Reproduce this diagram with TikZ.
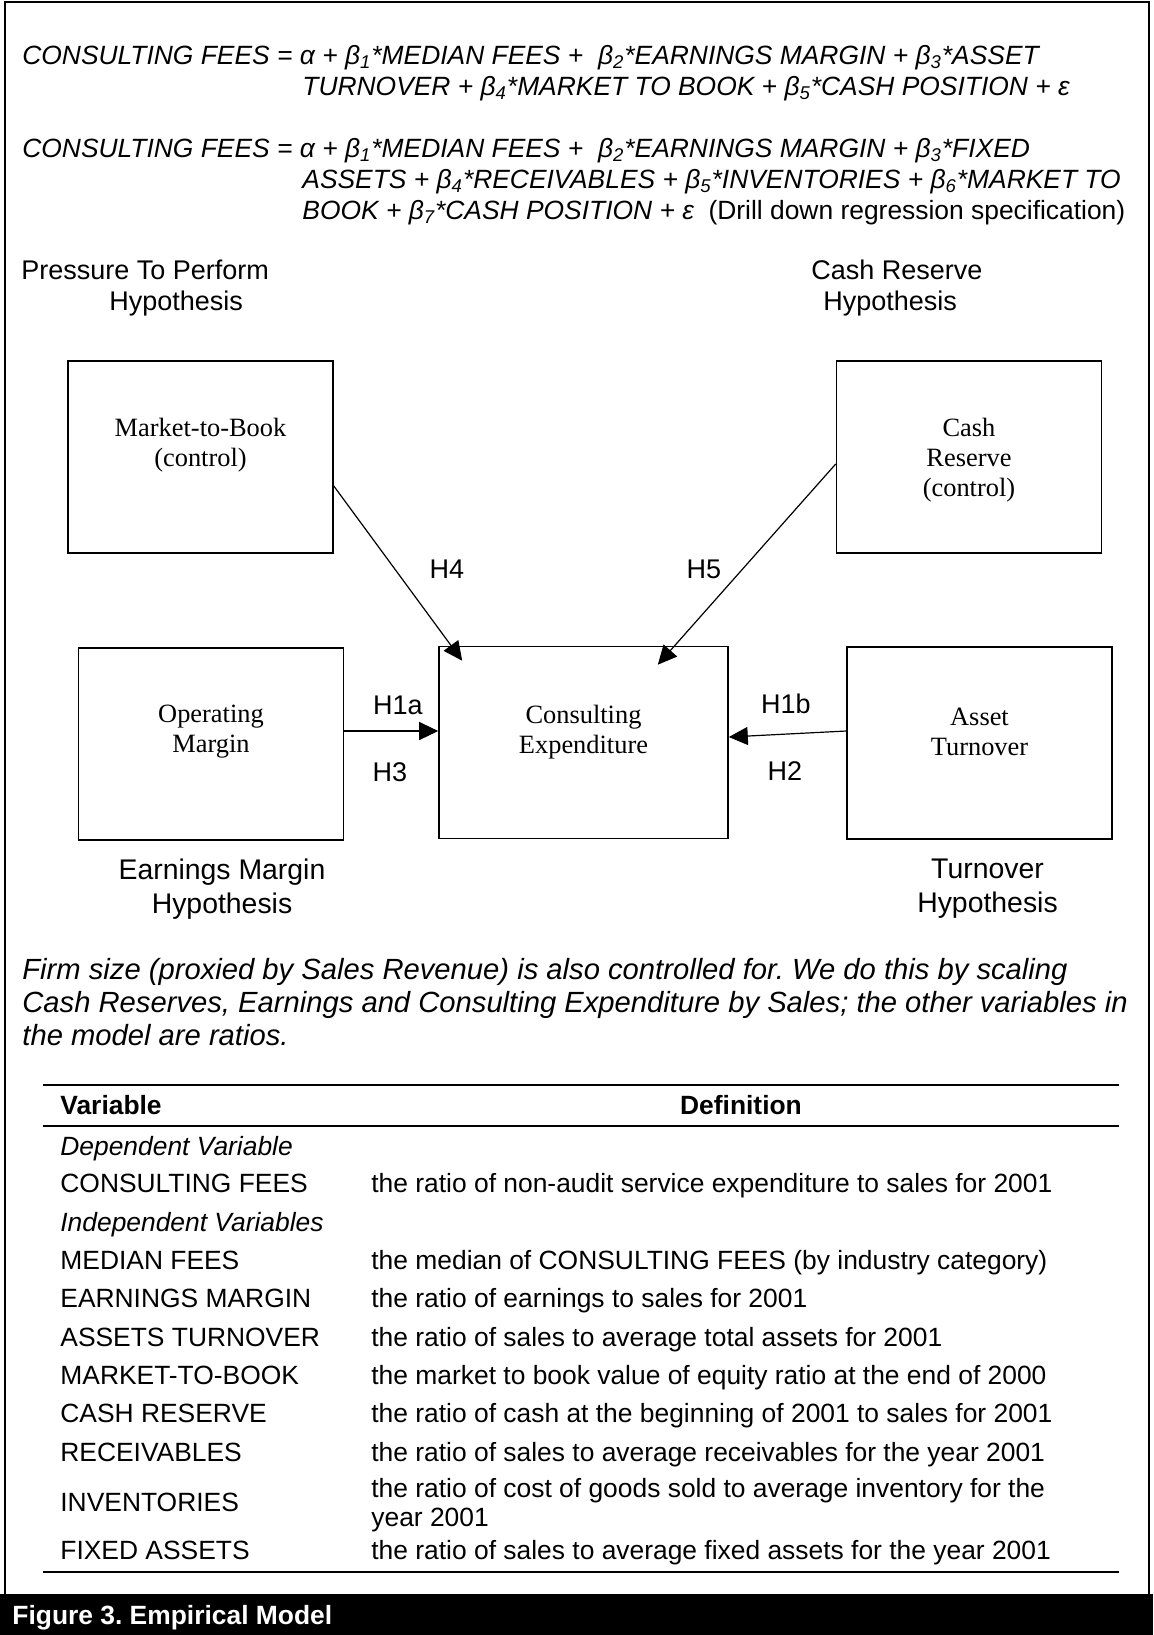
\documentclass[tikz,border=0pt]{standalone}
\usepackage{fontspec}
\setmainfont{Liberation Sans}
\newfontfamily\boxfont{Liberation Serif}
\usetikzlibrary{arrows.meta,positioning}
\frenchspacing

\tikzset{
every node/.style={inner sep=0pt,font=\fontsize{13.2}{16}\selectfont},
txt/.style={anchor=base west},
eqn/.style={anchor=base west,font=\fontsize{13.2}{16}\selectfont\itshape},
note/.style={anchor=base west,font=\fontsize{14.6}{16}\selectfont\itshape},
hyp/.style={align=center,font=\fontsize{14.2}{17}\selectfont},
var/.style={draw,line width=0.8pt,minimum width=132.5pt,minimum height=96pt},
vartxt/.style={align=center,font=\fontsize{13.2}{15}\boxfont},
link/.style={line width=0.6pt,-{Triangle[length=9.5pt,width=9pt]}},
hl/.style={font=\fontsize{13.5}{16}\selectfont},
thd/.style={anchor=base west,font=\fontsize{13.2}{16}\selectfont\bfseries}
}

\begin{document}
\begin{tikzpicture}[x=0.5pt,y=-0.5pt]
\useasboundingbox (0,0) rectangle (1153,1635);
\draw[line width=1.2pt] (5,2) rectangle (1149,1600);
\fill (0,1594) rectangle (1153,1635);

\node[eqn] (eqa1) at (22,64) {CONSULTING FEES = α + β\textsubscript{1}*MEDIAN FEES +~ β\textsubscript{2}*EARNINGS MARGIN + β\textsubscript{3}*ASSET};
\node[eqn] (eqa2) at (302,95) {TURNOVER + β\textsubscript{4}*MARKET TO BOOK + β\textsubscript{5}*CASH POSITION + ε};
\node[eqn] (eqb1) at (22,157) {CONSULTING FEES = α + β\textsubscript{1}*MEDIAN FEES +~ β\textsubscript{2}*EARNINGS MARGIN + β\textsubscript{3}*FIXED};
\node[eqn] (eqb2) at (302,188) {ASSETS + β\textsubscript{4}*RECEIVABLES + β\textsubscript{5}*INVENTORIES + β\textsubscript{6}*MARKET TO};
\node[eqn] (eqb3) at (302,219) {BOOK + β\textsubscript{7}*CASH POSITION + ε~ \upshape(Drill down regression specification)};

\node[hyp,align=left,anchor=base west,font=\fontsize{13.5}{15.5}\selectfont] (pth) at (21,310) {Pressure To Perform\\\hspace*{44pt}Hypothesis};
\node[hyp,align=left,anchor=base west,font=\fontsize{13.5}{15.5}\selectfont] (crh) at (811,310) {Cash Reserve\\\hspace*{6pt}Hypothesis};

\node[var] (mtb) at (200.5,457) {};
\node[vartxt] (mtbt) at ([yshift=6pt]mtb.center) {Market-to-Book\\(control)};
\node[var] (cash) at (969,457) {};
\node[vartxt] (casht) at ([yshift=-1.5pt]cash.center) {Cash\\Reserve\\(control)};
\node[var] (opm) at (211,744) {};
\node[vartxt] (opmt) at ([yshift=6pt]opm.center) {Operating\\Margin};
\node[var,minimum width=144.5pt] (cons) at (583.5,742.5) {};
\node[vartxt] (const) at ([yshift=5.25pt]cons.center) {Consulting\\Expenditure};
\node[var] (ast) at (979.5,743) {};
\node[vartxt] (astt) at ([yshift=5.5pt]ast.center) {Asset\\Turnover};

\coordinate (om) at ([yshift=6.5pt]opm.east);
\draw[link] ([yshift=-14.5pt]mtb.east) -- ([xshift=12pt,yshift=-7.5pt]cons.north west);
\draw[link] ([yshift=-3.5pt]cash.west) -- ([xshift=-35.5pt,yshift=-9.5pt]cons.north east);
\draw[link] (om) -- (om -| cons.west);
\draw[link] ([yshift=6pt]ast.west) -- ([yshift=2.75pt]cons.east);

\node[hl] (h4) at (447,569) {H4};
\node[hl] (h5) at (704,569) {H5};
\node[hl] (h1a) at (398,705) {H1a};
\node[hl] (h3) at (390,772) {H3};
\node[hl] (h1b) at (786,704) {H1b};
\node[hl] (h2) at (785,771) {H2};

\node[hyp,below=9pt of opm,xshift=5.5pt] (emh) {Earnings Margin\\Hypothesis};
\node[hyp,below=9.5pt of ast,xshift=4pt] (toh) {Turnover\\Hypothesis};

\node[note] (fs1) at (22,979) {Firm size (proxied by Sales Revenue) is also controlled for. We do this by scaling};
\node[note] (fs2) at (22,1012) {Cash Reserves, Earnings and Consulting Expenditure by Sales; the other variables in};
\node[note] (fs3) at (22,1045) {the model are ratios.};

\draw[line width=1pt] (43,1085) -- (1119,1085);
\node[thd] (vh) at (60,1114) {Variable};
\node[thd,anchor=base] (dh) at (741,1114) {Definition};
\draw[line width=1pt] (43,1126) -- (1119,1126);
\node[eqn] (dv) at (60,1155) {Dependent Variable};
\node[txt] (v1) at (60,1192) {CONSULTING FEES};
\node[txt] (d1) at (371,1192) {the ratio of non-audit service expenditure to sales for 2001};
\node[eqn] (iv) at (60,1231) {Independent Variables};
\node[txt] (v2) at (60,1269) {MEDIAN FEES};
\node[txt] (d2) at (371,1269) {the median of CONSULTING FEES (by industry category)};
\node[txt] (v3) at (60,1307) {EARNINGS MARGIN};
\node[txt] (d3) at (371,1307) {the ratio of earnings to sales for 2001};
\node[txt] (v4) at (60,1346) {ASSETS TURNOVER};
\node[txt] (d4) at (371,1346) {the ratio of sales to average total assets for 2001};
\node[txt] (v5) at (60,1384) {MARKET-TO-BOOK};
\node[txt] (d5) at (371,1384) {the market to book value of equity ratio at the end of 2000};
\node[txt] (v6) at (60,1422) {CASH RESERVE};
\node[txt] (d6) at (371,1422) {the ratio of cash at the beginning of 2001 to sales for 2001};
\node[txt] (v7) at (60,1461) {RECEIVABLES};
\node[txt] (d7) at (371,1461) {the ratio of sales to average receivables for the year 2001};
\node[txt] (v8) at (60,1511) {INVENTORIES};
\node[txt] (d8) at (371,1497) {the ratio of cost of goods sold to average inventory for the};
\node[txt] (d8b) at (371,1526) {year 2001};
\node[txt] (v9) at (60,1559) {FIXED ASSETS};
\node[txt] (d9) at (371,1559) {the ratio of sales to average fixed assets for the year 2001};
\draw[line width=1pt] (43,1572) -- (1119,1572);

\node[thd,text=white] (fig) at (12,1624) {Figure 3. Empirical Model};
\end{tikzpicture}
\end{document}
